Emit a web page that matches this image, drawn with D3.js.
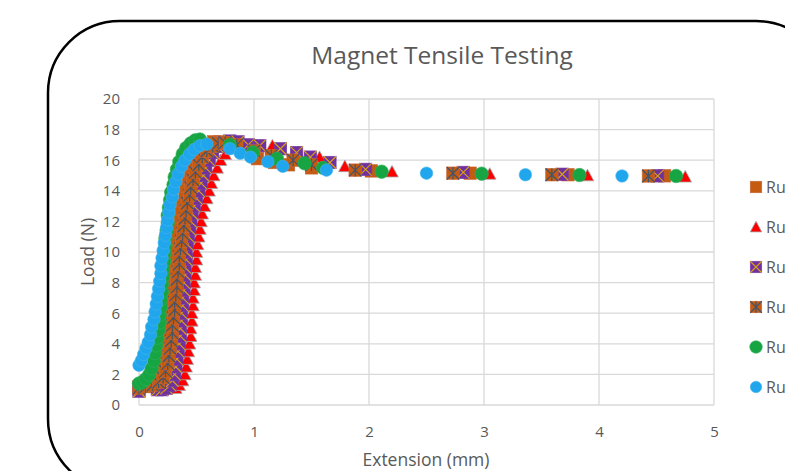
<!DOCTYPE html>
<html>
<head>
<meta charset="utf-8">
<script src="https://cdn.jsdelivr.net/npm/d3@7/dist/d3.min.js"></script>
<style>
  body { margin: 0; background: #fff; }
  text { font-family: "Open Sans", sans-serif; fill: #595959; }
</style>
</head>
<body>
<svg id="chart" width="785" height="471"></svg>
<script>
// 数据
const runNames = ["Run 1", "Run 2", "Run 3", "Run 4", "Run 5", "Run 6"];
const xTicks = [0, 1, 2, 3, 4, 5];
const yTicks = [0, 2, 4, 6, 8, 10, 12, 14, 16, 18, 20];

const run1 = [[0.00,1.2],[0.04,1.3],[0.08,1.4],[0.12,1.6],[0.16,1.9],[0.19,2.3],[0.21,2.8],[0.22,3.3],[0.23,3.8],[0.24,4.3],[0.25,4.8],[0.26,5.3],[0.26,5.8],[0.27,6.3],[0.28,6.8],[0.28,7.3],[0.29,7.8],[0.30,8.3],[0.30,8.8],[0.31,9.3],[0.32,9.8],[0.32,10.3],[0.33,10.8],[0.34,11.3],[0.35,11.8],[0.36,12.3],[0.37,12.8],[0.38,13.3],[0.40,13.8],[0.41,14.3],[0.43,14.8],[0.45,15.3],[0.48,15.8],[0.51,16.3],[0.55,16.7],[0.60,17.0],[0.65,17.2],[0.70,17.2],[0.80,17.0],[0.92,16.6],[1.03,16.1],[1.18,15.85],[1.30,15.7],[1.50,15.5],[2.02,15.3],[2.88,15.15],[3.73,15.05],[4.57,14.98]];
const run2 = [[0.32,1.1],[0.35,1.3],[0.38,1.6],[0.40,2.0],[0.41,2.5],[0.42,3.0],[0.43,3.5],[0.44,4.0],[0.45,4.5],[0.45,5.0],[0.46,5.5],[0.46,6.0],[0.47,6.5],[0.47,7.0],[0.48,7.5],[0.48,8.0],[0.49,8.5],[0.49,9.0],[0.50,9.5],[0.50,10.0],[0.51,10.5],[0.52,11.0],[0.53,11.5],[0.54,12.0],[0.55,12.5],[0.57,13.0],[0.59,13.5],[0.61,14.0],[0.63,14.5],[0.65,15.0],[0.68,15.5],[0.71,16.0],[0.75,16.4],[0.80,16.75],[0.86,16.95],[0.93,17.0],[1.02,16.95],[1.16,16.95],[1.38,16.5],[1.57,16.2],[1.79,15.6],[2.20,15.25],[3.05,15.1],[3.90,15.0],[4.75,14.92]];
const run3 = [[0.00,0.9],[0.16,1.0],[0.20,1.0],[0.24,1.1],[0.27,1.3],[0.29,1.6],[0.31,2.0],[0.32,2.5],[0.33,3.0],[0.34,3.5],[0.35,4.0],[0.36,4.5],[0.36,5.0],[0.37,5.5],[0.37,6.0],[0.38,6.5],[0.38,7.0],[0.39,7.5],[0.39,8.0],[0.40,8.5],[0.40,9.0],[0.41,9.5],[0.41,10.0],[0.42,10.5],[0.43,11.0],[0.44,11.5],[0.45,12.0],[0.46,12.5],[0.48,13.0],[0.50,13.5],[0.52,14.0],[0.54,14.5],[0.56,15.0],[0.58,15.5],[0.61,16.0],[0.64,16.5],[0.68,16.9],[0.73,17.15],[0.79,17.25],[0.86,17.2],[0.95,17.0],[1.05,16.95],[1.23,16.75],[1.37,16.5],[1.49,16.2],[1.66,15.85],[1.97,15.4],[2.82,15.2],[3.68,15.08],[4.51,14.98]];
const run4 = [[0.00,1.1],[0.06,1.2],[0.12,1.3],[0.17,1.5],[0.21,1.8],[0.23,2.2],[0.25,2.7],[0.26,3.2],[0.27,3.7],[0.28,4.2],[0.29,4.7],[0.29,5.2],[0.30,5.7],[0.31,6.2],[0.31,6.7],[0.32,7.2],[0.33,7.7],[0.33,8.2],[0.34,8.7],[0.35,9.2],[0.35,9.7],[0.36,10.2],[0.37,10.7],[0.38,11.2],[0.39,11.7],[0.40,12.2],[0.41,12.7],[0.42,13.2],[0.44,13.7],[0.45,14.2],[0.47,14.7],[0.49,15.2],[0.52,15.7],[0.55,16.2],[0.59,16.6],[0.64,16.9],[0.69,17.1],[0.75,17.15],[0.85,17.0],[1.00,16.6],[1.15,16.3],[1.34,16.0],[1.50,15.7],[1.88,15.35],[2.73,15.15],[3.59,15.05],[4.43,14.97]];
const run5 = [[0.00,1.4],[0.03,1.5],[0.06,1.7],[0.09,2.0],[0.11,2.4],[0.13,2.9],[0.14,3.4],[0.15,3.9],[0.16,4.4],[0.17,4.9],[0.18,5.4],[0.18,5.9],[0.19,6.4],[0.19,6.9],[0.20,7.4],[0.20,7.9],[0.21,8.4],[0.21,8.9],[0.22,9.4],[0.22,9.9],[0.23,10.4],[0.23,10.9],[0.24,11.4],[0.25,11.9],[0.25,12.4],[0.26,12.9],[0.27,13.4],[0.28,13.9],[0.30,14.4],[0.31,14.9],[0.33,15.4],[0.35,15.9],[0.38,16.4],[0.41,16.8],[0.45,17.1],[0.49,17.3],[0.53,17.35],[0.79,17.0],[0.99,16.5],[1.20,16.1],[1.44,15.8],[1.60,15.5],[2.11,15.25],[2.98,15.12],[3.83,15.03],[4.67,14.97]];
const run6 = [[0.00,2.6],[0.02,2.9],[0.04,3.3],[0.06,3.7],[0.08,4.1],[0.10,4.6],[0.11,5.1],[0.13,5.6],[0.14,6.1],[0.15,6.6],[0.16,7.1],[0.17,7.6],[0.18,8.1],[0.19,8.6],[0.19,9.1],[0.20,9.6],[0.21,10.1],[0.22,10.6],[0.23,11.1],[0.24,11.6],[0.25,12.1],[0.26,12.6],[0.27,13.1],[0.29,13.6],[0.30,14.1],[0.32,14.6],[0.34,15.1],[0.37,15.6],[0.40,16.0],[0.44,16.4],[0.48,16.7],[0.53,16.95],[0.59,17.05],[0.79,16.75],[0.88,16.45],[0.97,16.2],[1.12,15.9],[1.25,15.6],[1.63,15.35],[2.50,15.15],[3.36,15.05],[4.20,14.97]];

const runData = [run1, run2, run3, run4, run5, run6];
const markerTypes = ["square", "triangle", "squareX", "squareStar", "circleGreen", "circleBlue"];

const svg = d3.select("#chart");

// 外框
svg.append("rect")
    .attr("x", 48).attr("y", 21)
    .attr("width", 780).attr("height", 470)
    .attr("rx", 72).attr("ry", 72)
    .attr("fill", "#fff")
    .attr("stroke", "#000")
    .attr("stroke-width", 2.5);

const x = d3.scaleLinear().domain([0, 5]).range([139, 714]);
const y = d3.scaleLinear().domain([0, 20]).range([405, 99]);

// 网格线
svg.append("g")
    .selectAll("line")
    .data(yTicks)
    .enter()
    .append("line")
    .attr("x1", x(0)).attr("x2", x(5))
    .attr("y1", d => y(d)).attr("y2", d => y(d))
    .attr("stroke", "#d9d9d9")
    .attr("stroke-width", 1.3);

svg.append("g")
    .selectAll("line")
    .data(xTicks)
    .enter()
    .append("line")
    .attr("x1", d => x(d)).attr("x2", d => x(d))
    .attr("y1", y(0)).attr("y2", y(20))
    .attr("stroke", "#d9d9d9")
    .attr("stroke-width", 1.3);

// 坐标轴
const xAxis = svg.append("g")
    .attr("transform", `translate(0,${y(0)})`)
    .call(d3.axisBottom(x).tickValues(xTicks).tickSize(0).tickPadding(21).tickFormat(d3.format("d")));
const yAxis = svg.append("g")
    .attr("transform", `translate(${x(0)},0)`)
    .call(d3.axisLeft(y).tickValues(yTicks).tickSize(0).tickPadding(19).tickFormat(d3.format("d")));
[xAxis, yAxis].forEach(a => {
    a.select(".domain").remove();
    a.selectAll("text")
        .attr("fill", "#595959")
        .style("font-size", "15px")
        .style("font-family", "\"Open Sans\", sans-serif");
});

// 标题
svg.append("text")
    .attr("x", 442).attr("y", 64)
    .attr("text-anchor", "middle")
    .style("font-size", "24.5px")
    .text("Magnet Tensile Testing");

svg.append("text")
    .attr("x", 426).attr("y", 466)
    .attr("text-anchor", "middle")
    .style("font-size", "17.5px")
    .text("Extension (mm)");

svg.append("text")
    .attr("transform", "translate(94,252) rotate(-90)")
    .attr("text-anchor", "middle")
    .style("font-size", "17.5px")
    .text("Load (N)");

// 标记
function drawMarker(g, type, s) {
    const h = s / 2;
    if (type === "square" || type === "squareX" || type === "squareStar") {
        g.append("rect")
            .attr("x", -h).attr("y", -h)
            .attr("width", s).attr("height", s)
            .attr("fill", type === "squareX" ? "#7030A0" : "#C55A11")
            .attr("stroke", type === "squareX" ? "#7a3fa6" : "#c8683a")
            .attr("stroke-width", 0.6);
        if (type !== "square") {
            const c = type === "squareX" ? "#D4A017" : "#44546A";
            let p = `M${-h},${-h}L${h},${h}M${h},${-h}L${-h},${h}`;
            if (type === "squareStar") p += `M0,${-h}L0,${h}`;
            g.append("path").attr("d", p).attr("stroke", c).attr("stroke-width", 1.2).attr("fill", "none");
        }
    } else if (type === "triangle") {
        g.append("path")
            .attr("d", `M0,${-h}L${h},${h * 0.85}L${-h},${h * 0.85}Z`)
            .attr("fill", "#FF0000")
            .attr("stroke", "#a6a6a6")
            .attr("stroke-width", 0.8);
    } else {
        g.append("circle")
            .attr("r", type === "circleGreen" ? h + 0.5 : h)
            .attr("fill", type === "circleGreen" ? "#17A544" : "#1FA6EC")
            .attr("stroke", type === "circleGreen" ? "#2fae55" : "#49b4ee")
            .attr("stroke-width", 0.6);
    }
}

runData.forEach((data, i) => {
    svg.append("g")
        .attr("class", "series")
        .selectAll("g")
        .data(data)
        .enter()
        .append("g")
        .attr("transform", d => `translate(${x(d[0])},${y(d[1])})`)
        .each(function () { drawMarker(d3.select(this), markerTypes[i], 12.5); });
});

// 图例
const legendY = d3.scaleLinear().domain([0, 5]).range([187, 387]);
const legend = svg.append("g");
runNames.forEach((name, i) => {
    const g = legend.append("g").attr("transform", `translate(756,${legendY(i)})`);
    drawMarker(g, markerTypes[i], 11.5);
    g.append("text")
        .attr("x", 10).attr("y", 6)
        .style("font-size", "16px")
        .text(name);
});
</script>
</body>
</html>
